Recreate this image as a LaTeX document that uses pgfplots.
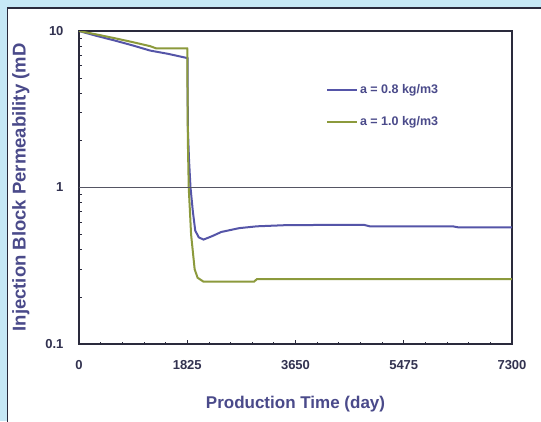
\documentclass[border=0pt]{standalone}
\usepackage{pgfplots}
\pgfplotsset{compat=1.18}
\usepackage{fontspec}
\setmainfont{Liberation Sans}
\definecolor{bgblue}{HTML}{C6E8F6}
\definecolor{frame}{HTML}{2A2A3C}
\definecolor{txt}{HTML}{4A4A8A}
\definecolor{lblue}{HTML}{5555A8}
\definecolor{lgreen}{HTML}{8C9A3C}
\begin{document}
\begin{tikzpicture}
\useasboundingbox (0pt,0pt) rectangle (541pt,-421pt);
\fill[bgblue] (0pt,0pt) rectangle (541pt,-421pt);
\draw[frame,line width=1.2pt,fill=white] (7.5pt,-8pt) rectangle (548pt,-430pt);
\begin{axis}[
  at={(79pt,-344pt)}, anchor=south west,
  scale only axis, width=433pt, height=313pt,
  xmin=0, xmax=7300, ymin=0.1, ymax=10,
  ymode=log,
  axis line style={frame, line width=1.2pt},
  xtick={0,1825,3650,5475,7300},
  minor x tick num=4,
  ytick={0.1,1,10},
  yticklabels={0.1,1,10},
  tick align=inside,
  xtick pos=bottom, ytick pos=left,
  major tick length=4pt, minor tick length=2.5pt,
  tick style={frame, line width=0.7pt},
  every tick label/.append style={font=\bfseries\fontsize{13}{15}\selectfont, text=frame!75!txt},
  /pgf/number format/assume math mode=true,
  /pgf/number format/1000 sep={},
  scaled x ticks=false,
  xticklabel style={yshift=-13pt},
  yticklabel style={xshift=-12pt},
  xlabel={Production Time (day)},
  ylabel={Injection Block Permeability (mD},
  xlabel style={font=\bfseries\fontsize{17}{19}\selectfont, text=txt, yshift=-20pt},
  ylabel style={font=\bfseries\fontsize{18.5}{20}\selectfont, text=txt, yshift=9pt},
  legend style={draw=none, fill=none, at={(0.57,0.835)}, anchor=north west,
    font=\bfseries\fontsize{12.5}{14}\selectfont, text=txt, row sep=17pt,
    legend cell align=left, inner sep=0pt},
  legend image code/.code={\draw[#1, line width=2pt] (0pt,0pt) -- (30pt,0pt);},
]
\addplot[lblue, line width=2pt] coordinates {
(0,10) (300,9.3) (600,8.7) (900,8.1) (1200,7.5) (1500,7.15) (1800,6.75) (1830,6.7)
(1835,2.4) (1855,1.5) (1880,1.0) (1920,0.7) (1960,0.53) (2020,0.48) (2100,0.465) (2250,0.49) (2400,0.52) (2700,0.55) (3000,0.565) (3500,0.575) (4800,0.578) (4900,0.565) (6300,0.565) (6400,0.556) (7300,0.556)};
\addlegendentry{a = 0.8 kg/m3}
\addplot[lgreen, line width=2pt] coordinates {
(0,10) (300,9.5) (600,9.0) (900,8.5) (1200,8.0) (1300,7.75) (1825,7.75)
(1835,2.0) (1850,1.0) (1890,0.5) (1950,0.30) (2000,0.265) (2100,0.25) (2950,0.25) (3000,0.26) (7300,0.26)};
\addlegendentry{a = 1.0 kg/m3}
\addplot[frame!80, line width=1.4pt, forget plot] coordinates {(0,1) (7300,1)};
\end{axis}
\end{tikzpicture}
\end{document}
